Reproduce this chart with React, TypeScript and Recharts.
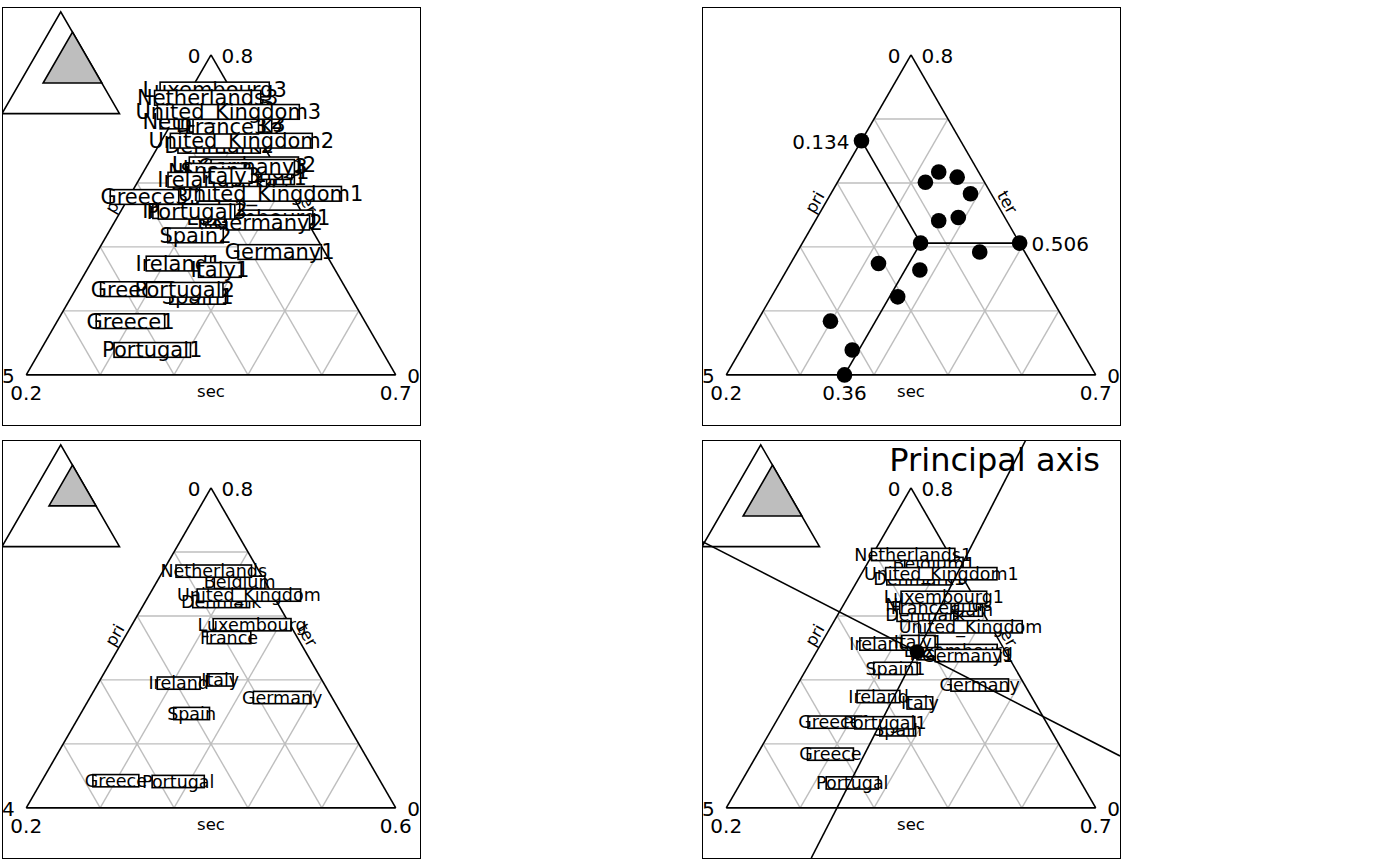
import React from 'react';
import { ScatterChart, Scatter, XAxis, YAxis } from 'recharts';

// ---------------- data ----------------
const countries = ['Belgium', 'Denmark', 'Germany', 'Greece', 'Spain', 'France', 'Ireland', 'Italy', 'Luxembourg', 'Netherlands', 'Portugal', 'United_Kingdom'];

const pri78 = [0.033, 0.080, 0.061, 0.317, 0.207, 0.092, 0.207, 0.156, 0.063, 0.054, 0.310, 0.028];
const sec78 = [0.358, 0.319, 0.447, 0.299, 0.371, 0.367, 0.319, 0.380, 0.391, 0.329, 0.351, 0.389];
const ter78 = [0.609, 0.601, 0.492, 0.384, 0.422, 0.541, 0.474, 0.464, 0.546, 0.617, 0.339, 0.583];

const pri86 = [0.028, 0.060, 0.054, 0.286, 0.162, 0.074, 0.157, 0.110, 0.041, 0.049, 0.219, 0.026];
const sec86 = [0.290, 0.282, 0.408, 0.280, 0.320, 0.313, 0.287, 0.330, 0.330, 0.255, 0.348, 0.308];
const ter86 = [0.682, 0.658, 0.538, 0.434, 0.518, 0.613, 0.556, 0.560, 0.629, 0.696, 0.433, 0.666];

const pri97 = [0.024, 0.028, 0.031, 0.201, 0.083, 0.036, 0.112, 0.068, 0.022, 0.038, 0.142, 0.021];
const sec97 = [0.262, 0.281, 0.344, 0.221, 0.298, 0.276, 0.283, 0.321, 0.232, 0.229, 0.303, 0.268];
const ter97 = [0.714, 0.691, 0.625, 0.578, 0.619, 0.688, 0.605, 0.611, 0.746, 0.733, 0.555, 0.711];

// axis ranges (min, max) as shown by the corner tick labels
const priRangeWide = [0, 0.5];
const secRangeWide = [0.2, 0.7];
const terRangeWide = [0.3, 0.8];
const priRangeNarrow = [0, 0.4];
const secRangeNarrow = [0.2, 0.6];
const terRangeNarrow = [0.4, 0.8];

const axisNames = ['pri', 'sec', 'ter'];
const yearSuffixes = ['1', '2', '3'];
const subtitle = 'Principal axis';

// ---------------- geometry helpers ----------------
type Pt = { x: number; y: number };
type Ranges = { pri: number[]; sec: number[]; ter: number[] };
type Row = { name: string; p: number; s: number; t: number };

const VA: Pt = { x: -1 / Math.SQRT2, y: -1 / Math.sqrt(6) };
const VB: Pt = { x: 1 / Math.SQRT2, y: -1 / Math.sqrt(6) };
const VC: Pt = { x: 0, y: 2 / Math.sqrt(6) };
const bary = (a: number, b: number, c: number): Pt => ({
  x: a * VA.x + b * VB.x + c * VC.x,
  y: a * VA.y + b * VB.y + c * VC.y,
});

function project(p: number, s: number, t: number, r: Ranges): Pt {
  const sum = p + s + t;
  const a = (p / sum - r.pri[0]) / (r.pri[1] - r.pri[0]);
  const b = (s / sum - r.sec[0]) / (r.sec[1] - r.sec[0]);
  const c = (t / sum - r.ter[0]) / (r.ter[1] - r.ter[0]);
  return bary(a, b, c);
}

const INSET_K = 0.318;
const INSET_X0 = -0.8;
const INSET_Y0 = 0.592;
const insetMap = (pt: Pt): Pt => ({ x: INSET_X0 + INSET_K * (pt.x - VA.x), y: INSET_Y0 + INSET_K * (pt.y - VA.y) });

const makeRows = (pri: number[], sec: number[], ter: number[], suffix: string): Row[] =>
  countries.map((c, i) => ({ name: c + suffix, p: pri[i], s: sec[i], t: ter[i] }));

const rows78 = makeRows(pri78, sec78, ter78, '');
const rows86 = makeRows(pri86, sec86, ter86, '');

const fmt = (v: number) => String(Number(v.toPrecision(3)));

// ---------------- text measurement ----------------
let measureCtx: CanvasRenderingContext2D | null = null;
function helvWidth(text: string, fs: number): number {
  try {
    if (!measureCtx) measureCtx = document.createElement('canvas').getContext('2d');
    if (measureCtx) {
      measureCtx.font = `${fs}px "Liberation Sans"`;
      return measureCtx.measureText(text).width;
    }
  } catch (e) {
    /* ignore */
  }
  return text.length * fs * 0.55;
}

const FONT = '"DejaVu Sans", sans-serif';
const TICK_FS = 20;
const NAME_FS = 16.5;
const GRID = '#BEBEBE';
const LW = 1.6;
const GLW = 1.4;

// ---------------- shapes ----------------
const noShape = () => <g />;

const segmentsLine = (stroke: string, w: number) => (lp: any) => {
  const pts = (lp && lp.points) || [];
  const out: any[] = [];
  for (let i = 0; i + 1 < pts.length; i += 2) {
    out.push(<line key={i} x1={pts[i].x} y1={pts[i].y} x2={pts[i + 1].x} y2={pts[i + 1].y} stroke={stroke} strokeWidth={w} />);
  }
  return <g>{out}</g>;
};

const polygonLine = (fill: string, stroke: string, w: number) => (lp: any) => {
  const pts = (lp && lp.points) || [];
  return <polygon points={pts.map((p: any) => `${p.x},${p.y}`).join(' ')} fill={fill} stroke={stroke} strokeWidth={w} />;
};

const textShape = (props: any) => {
  const { cx, cy, payload } = props;
  const x = cx + (payload.dx || 0);
  const y = cy + (payload.dy || 0);
  const rot = payload.rotate || 0;
  return (
    <text
      x={x}
      y={y}
      dy={rot ? payload.size * 0.3 : 0}
      textAnchor={payload.anchor || 'middle'}
      fontSize={payload.size}
      fontFamily={FONT}
      fill="#000"
      transform={rot ? `rotate(${rot} ${x} ${y})` : undefined}
    >
      {payload.text}
    </text>
  );
};

const dotShape = (r: number) => (props: any) => <circle cx={props.cx} cy={props.cy} r={r} fill="#000" />;

const boxedLabel = (fs: number, boxFactor: number) => (props: any) => {
  const { cx, cy, payload } = props;
  const w = helvWidth(payload.name, fs) * boxFactor;
  const h = fs * 0.7;
  return (
    <g>
      <rect x={cx - w / 2} y={cy - h / 2} width={w} height={h} fill="#fff" stroke="#000" strokeWidth={LW} />
      <text x={cx} y={cy + fs * 0.35} textAnchor="middle" fontSize={fs} fontFamily={FONT} fill="#000">
        {payload.name}
      </text>
    </g>
  );
};

// ---------------- panel ----------------
type PanelProps = {
  left: number;
  top: number;
  ranges: Ranges;
  inset?: boolean;
  labels?: Row[];
  labelSize?: number;
  boxFactor?: number;
  dots?: Row[];
  mean?: boolean;
  axes?: boolean;
  title?: string;
};

const SIZE = 418;

function Panel({ left, top, ranges: r, inset, labels, labelSize = 20, boxFactor = 0.82, dots, mean, axes, title }: PanelProps) {
  const els: any[] = [];
  let k = 0;
  const common = { isAnimationActive: false };

  if (inset) {
    const outer = [VA, VB, VC].map(insetMap);
    const sub = [
      bary(r.pri[1], r.sec[0], r.ter[0]),
      bary(r.pri[0], r.sec[1], r.ter[0]),
      bary(r.pri[0], r.sec[0], r.ter[1]),
    ].map(insetMap);
    els.push(<Scatter key={k++} data={outer} shape={noShape} line={polygonLine('#fff', '#000', LW)} {...common} />);
    els.push(<Scatter key={k++} data={sub} shape={noShape} line={polygonLine(GRID, '#000', LW)} {...common} />);
  }

  // grid
  const grid: Pt[] = [];
  for (let i = 1; i < 5; i++) {
    const f = i / 5;
    grid.push(bary(1 - f, 0, f), bary(0, 1 - f, f));
    grid.push(bary(1 - f, f, 0), bary(0, f, 1 - f));
    grid.push(bary(f, 1 - f, 0), bary(f, 0, 1 - f));
  }
  els.push(<Scatter key={k++} data={grid} shape={noShape} line={segmentsLine(GRID, GLW)} {...common} />);
  els.push(<Scatter key={k++} data={[VA, VB, VB, VC, VC, VA]} shape={noShape} line={segmentsLine('#000', LW)} {...common} />);

  // corner labels and axis names
  const midL = { x: (VA.x + VC.x) / 2, y: (VA.y + VC.y) / 2 };
  const midR = { x: (VB.x + VC.x) / 2, y: (VB.y + VC.y) / 2 };
  const ann = [
    { ...VC, text: fmt(r.pri[0]), anchor: 'end', dx: -10.5, dy: 8.3, size: TICK_FS },
    { ...VC, text: fmt(r.ter[1]), anchor: 'start', dx: 10.5, dy: 8.3, size: TICK_FS },
    { ...VA, text: fmt(r.pri[1]), anchor: 'end', dx: -11.5, dy: 8.3, size: TICK_FS },
    { ...VA, text: fmt(r.sec[0]), anchor: 'middle', dx: 0, dy: 25.2, size: TICK_FS },
    { ...VB, text: fmt(r.sec[1]), anchor: 'middle', dx: 0, dy: 25.2, size: TICK_FS },
    { ...VB, text: fmt(r.pri[0]), anchor: 'start', dx: 11.5, dy: 8.3, size: TICK_FS },
    { x: (VA.x + VB.x) / 2, y: VA.y, text: axisNames[1], anchor: 'middle', dx: 0, dy: 22, size: NAME_FS },
    { ...midL, text: axisNames[0], anchor: 'middle', dx: -3.3, dy: -12.3, size: NAME_FS, rotate: -60 },
    { ...midR, text: axisNames[2], anchor: 'middle', dx: 3.3, dy: -12.3, size: NAME_FS, rotate: 60 },
  ];
  els.push(<Scatter key={k++} data={ann} shape={textShape} {...common} />);

  if (dots) {
    const pts = dots.map((d) => project(d.p, d.s, d.t, r));
    els.push(<Scatter key={k++} data={pts} shape={dotShape(7.8)} {...common} />);
  }

  if (mean && dots) {
    const n = dots.length;
    const mp = dots.reduce((a, d) => a + d.p, 0) / n;
    const ms = dots.reduce((a, d) => a + d.s, 0) / n;
    const mt = dots.reduce((a, d) => a + d.t, 0) / n;
    const M = project(mp, ms, mt, r);
    const a = (mp - r.pri[0]) / (r.pri[1] - r.pri[0]);
    const b = (ms - r.sec[0]) / (r.sec[1] - r.sec[0]);
    const c = (mt - r.ter[0]) / (r.ter[1] - r.ter[0]);
    const P = bary(a, 0, 1 - a);
    const S = bary(1 - b, b, 0);
    const T = bary(0, 1 - c, c);
    els.push(<Scatter key={k++} data={[M, P, M, S, M, T]} shape={noShape} line={segmentsLine('#000', LW)} {...common} />);
    els.push(<Scatter key={k++} data={[M, P, S, T]} shape={dotShape(7.8)} {...common} />);
    const meanAnn = [
      { ...P, text: fmt(mp), anchor: 'end', dx: -12, dy: 8.3, size: TICK_FS },
      { ...T, text: fmt(mt), anchor: 'start', dx: 12, dy: 8.3, size: TICK_FS },
      { ...S, text: fmt(ms), anchor: 'middle', dx: 0, dy: 25.2, size: TICK_FS },
    ];
    els.push(<Scatter key={k++} data={meanAnn} shape={textShape} {...common} />);
  }

  if (labels) {
    const pts = labels.map((d) => ({ ...project(d.p, d.s, d.t, r), name: d.name }));
    els.push(<Scatter key={k++} data={pts} shape={boxedLabel(labelSize, boxFactor)} {...common} />);
  }

  if (axes && labels) {
    const pts = labels.map((d) => project(d.p, d.s, d.t, r));
    const n = pts.length;
    const mx = pts.reduce((s, p) => s + p.x, 0) / n;
    const my = pts.reduce((s, p) => s + p.y, 0) / n;
    let sxx = 0, syy = 0, sxy = 0;
    pts.forEach((p) => {
      sxx += (p.x - mx) * (p.x - mx);
      syy += (p.y - my) * (p.y - my);
      sxy += (p.x - mx) * (p.y - my);
    });
    const th = 0.5 * Math.atan2(2 * sxy, sxx - syy);
    const dirs = [
      { x: Math.cos(th), y: Math.sin(th) },
      { x: -Math.sin(th), y: Math.cos(th) },
    ];
    const segs: Pt[] = [];
    dirs.forEach((d) => {
      let lo = -Infinity, hi = Infinity;
      const clip = (o: number, dd: number, mn: number, mxv: number) => {
        if (Math.abs(dd) < 1e-12) return;
        const t1 = (mn - o) / dd, t2 = (mxv - o) / dd;
        lo = Math.max(lo, Math.min(t1, t2));
        hi = Math.min(hi, Math.max(t1, t2));
      };
      clip(mx, d.x, -0.8, 0.8);
      clip(my, d.y, -0.6, 1);
      segs.push({ x: mx + lo * d.x, y: my + lo * d.y }, { x: mx + hi * d.x, y: my + hi * d.y });
    });
    els.push(<Scatter key={k++} data={[{ x: mx, y: my }]} shape={dotShape(7.5)} {...common} />);
    els.push(<Scatter key={k++} data={segs} shape={noShape} line={segmentsLine('#000', LW)} {...common} />);
  }

  if (title) {
    els.push(
      <Scatter key={k++} data={[{ x: 0.8, y: 1, text: title, anchor: 'end', dx: -20, dy: 31, size: 32 }]} shape={textShape} {...common} />
    );
  }

  return (
    <>
      <div style={{ position: 'absolute', left, top, width: SIZE, height: SIZE, overflow: 'hidden' }}>
        <ScatterChart width={SIZE} height={SIZE} margin={{ top: 0, right: 0, bottom: 0, left: 0 }}>
          <XAxis type="number" dataKey="x" domain={[-0.8, 0.8]} hide />
          <YAxis type="number" dataKey="y" domain={[-0.6, 1]} hide />
          {els}
        </ScatterChart>
      </div>
      <div
        style={{
          position: 'absolute',
          left,
          top,
          width: SIZE + 1,
          height: SIZE + 1,
          border: '1.3px solid #000',
          boxSizing: 'border-box',
          pointerEvents: 'none',
        }}
      />
    </>
  );
}

export default function App() {
  const wide: Ranges = { pri: priRangeWide, sec: secRangeWide, ter: terRangeWide };
  const narrow: Ranges = { pri: priRangeNarrow, sec: secRangeNarrow, ter: terRangeNarrow };
  const allYears: Row[] = [
    ...makeRows(pri78, sec78, ter78, yearSuffixes[0]),
    ...makeRows(pri86, sec86, ter86, yearSuffixes[1]),
    ...makeRows(pri97, sec97, ter97, yearSuffixes[2]),
  ];
  const both: Row[] = [...rows78, ...makeRows(pri86, sec86, ter86, yearSuffixes[0])];
  return (
    <div style={{ position: 'absolute', left: 0, top: 0, width: 1400, height: 866, background: '#fff' }}>
      <Panel left={2} top={7} ranges={wide} inset labels={allYears} labelSize={21} boxFactor={0.85} />
      <Panel left={702} top={7} ranges={wide} dots={rows78} mean />
      <Panel left={2} top={440} ranges={narrow} inset labels={rows86} labelSize={17.5} boxFactor={0.8} />
      <Panel left={702} top={440} ranges={wide} inset labels={both} labelSize={17.5} boxFactor={0.8} axes title={subtitle} />
    </div>
  );
}
